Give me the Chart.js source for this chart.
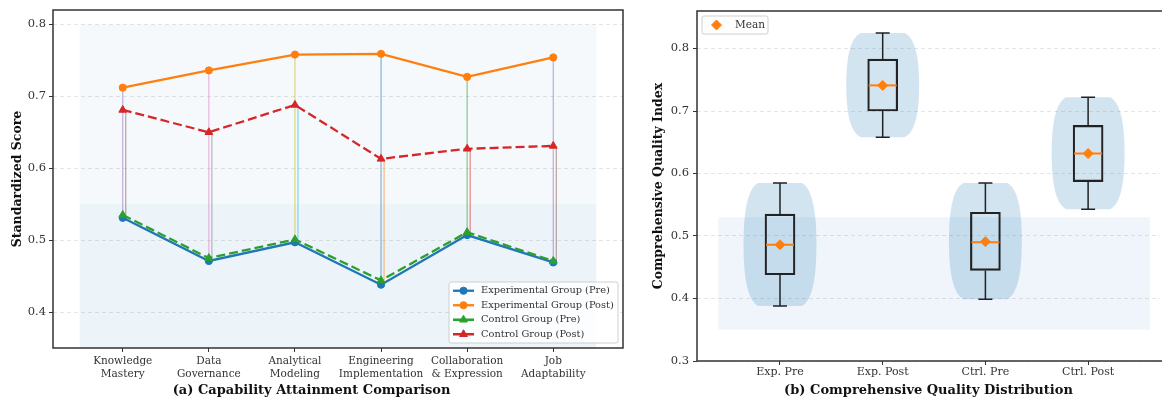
<!DOCTYPE html>
<html>
<head>
<meta charset="utf-8">
<script src="https://cdn.jsdelivr.net/npm/chart.js@4.4.1/dist/chart.umd.min.js"></script>
<style>
  html, body { margin: 0; padding: 0; background: #fff; }
  #wrap { position: relative; width: 1166px; height: 398px; overflow: hidden; }
  #chartA { position: absolute; left: 0; top: 0; }
  #chartB { position: absolute; left: 640px; top: 0; }
</style>
</head>
<body>
<div id="wrap">
  <canvas id="chartA" width="640" height="398"></canvas>
  <canvas id="chartB" width="526" height="398"></canvas>
</div>
<script>
// (a) capability attainment
const capabilities = ['Knowledge\nMastery', 'Data\nGovernance', 'Analytical\nModeling',
                      'Engineering\nImplementation', 'Collaboration\n& Expression', 'Job\nAdaptability'];
const expPre   = [0.531, 0.471, 0.497, 0.438, 0.507, 0.469];
const expPost  = [0.712, 0.736, 0.758, 0.759, 0.727, 0.754];
const ctrlPre  = [0.535, 0.475, 0.501, 0.444, 0.511, 0.471];
const ctrlPost = [0.681, 0.650, 0.688, 0.613, 0.627, 0.631];
const scoreTicks = [0.4, 0.5, 0.6, 0.7, 0.8];

// (b) comprehensive quality distribution
const groups      = ['Exp. Pre', 'Exp. Post', 'Ctrl. Pre', 'Ctrl. Post'];
const whiskerLow  = [0.388, 0.658, 0.399, 0.543];
const q1          = [0.438, 0.700, 0.445, 0.587];
const median      = [0.486, 0.741, 0.490, 0.632];
const q3          = [0.535, 0.783, 0.538, 0.677];
const whiskerHigh = [0.585, 0.825, 0.585, 0.722];
const means       = [0.486, 0.741, 0.491, 0.632];
const qualityTicks = [0.3, 0.4, 0.5, 0.6, 0.7, 0.8];

Chart.defaults.font.family = '"DejaVu Serif", serif';
Chart.defaults.color = '#333';

// colours for the thin pre->post links (matplotlib cycle after the 4 main lines)
const expLinkColors  = ['#9467bd', '#e377c2', '#bcbd22', '#1f77b4', '#2ca02c', '#9467bd'];
const ctrlLinkColors = ['#8c564b', '#7f7f7f', '#17becf', '#ff7f0e', '#d62728', '#8c564b'];

// shaded background bands
const bandsPlugin = {
    id: 'bands',
    beforeDraw(chart, args, o) {
        const {ctx, scales: {x, y}} = chart;
        ctx.save();
        o.bands.forEach(b => {
            const x0 = x.getPixelForValue(b.x[0]), x1 = x.getPixelForValue(b.x[1]);
            const y0 = y.getPixelForValue(b.y[1]), y1 = y.getPixelForValue(b.y[0]);
            ctx.fillStyle = b.color;
            ctx.fillRect(x0, y0, x1 - x0, y1 - y0);
        });
        ctx.restore();
    }
};

// axes frame
const framePlugin = {
    id: 'frame',
    afterDraw(chart, args, o) {
        const {ctx, chartArea: {left, top, right, bottom}} = chart;
        ctx.save();
        ctx.strokeStyle = '#333';
        ctx.lineWidth = 1.5;
        ctx.beginPath();
        if (o.open) {
            ctx.moveTo(right + 2, top); ctx.lineTo(left, top); ctx.lineTo(left, bottom); ctx.lineTo(right + 2, bottom);
        } else {
            ctx.rect(left, top, right - left, bottom - top);
        }
        ctx.stroke();
        ctx.restore();
    }
};

// legend drawn inside the plot, like matplotlib
const boxLegend = {
    id: 'boxLegend',
    afterDraw(chart, args, o) {
        const ctx = chart.ctx, ca = chart.chartArea;
        const items = chart.data.datasets.filter(d => d.label);
        const h = o.pad * 2 + items.length * o.row;
        const x = o.corner === 'br' ? ca.right - o.inset - o.width : ca.left + o.inset;
        const y = o.corner === 'br' ? ca.bottom - o.inset - h : ca.top + o.inset;
        ctx.save();
        ctx.beginPath();
        if (ctx.roundRect) ctx.roundRect(x, y, o.width, h, 2); else ctx.rect(x, y, o.width, h);
        ctx.fillStyle = 'rgba(255,255,255,0.85)';
        ctx.fill();
        ctx.strokeStyle = '#cfcfcf';
        ctx.lineWidth = 1;
        ctx.stroke();
        ctx.font = o.font;
        ctx.textBaseline = 'middle';
        items.forEach((d, i) => {
            const cy = y + o.pad + o.row * (i + 0.5);
            const sx = x + o.sampleLeft;
            if (o.line) {
                ctx.beginPath();
                ctx.setLineDash(d.borderDash || []);
                ctx.strokeStyle = d.borderColor;
                ctx.lineWidth = d.borderWidth;
                ctx.moveTo(sx, cy);
                ctx.lineTo(sx + o.sampleLen, cy);
                ctx.stroke();
                ctx.setLineDash([]);
            }
            ctx.fillStyle = d.pointBackgroundColor;
            ctx.strokeStyle = d.pointBorderColor;
            ctx.lineWidth = 1;
            Chart.helpers.drawPoint(ctx, {pointStyle: d.pointStyle, rotation: 0, radius: d.pointRadius, borderWidth: 1},
                sx + o.sampleLen / 2, cy);
            ctx.fillStyle = '#333';
            ctx.fillText(d.label, x + o.textLeft, cy);
        });
        ctx.restore();
    }
};

function pts(values) {
    return values.map((v, i) => ({x: i, y: v}));
}

function mainSet(label, values, color, style, dash, order) {
    return {
        label: label,
        data: pts(values),
        borderColor: color,
        backgroundColor: color,
        pointBackgroundColor: color,
        pointBorderColor: color,
        borderWidth: 2.3,
        borderDash: dash,
        pointStyle: style,
        pointRadius: style === 'triangle' ? 4.5 : 3.6,
        pointBorderWidth: 1,
        tension: 0,
        order: order
    };
}

var linkSets = [];
capabilities.forEach((c, i) => {
    linkSets.push({
        data: [{x: i, y: expPre[i]}, {x: i, y: expPost[i]}],
        borderColor: expLinkColors[i] + '8c', borderWidth: 1.2, pointRadius: 0, order: 10
    });
    linkSets.push({
        data: [{x: i + 0.035, y: ctrlPre[i]}, {x: i + 0.035, y: ctrlPost[i]}],
        borderColor: ctrlLinkColors[i] + '8c', borderWidth: 1.2, pointRadius: 0, order: 10
    });
});

var graficoA = new Chart(document.getElementById('chartA'), {
    type: 'line',
    data: {
        datasets: [
            mainSet('Experimental Group (Pre)', expPre, '#1f77b4', 'circle', [], 4),
            mainSet('Experimental Group (Post)', expPost, '#ff7f0e', 'circle', [], 3),
            mainSet('Control Group (Pre)', ctrlPre, '#2ca02c', 'triangle', [9, 4], 2),
            mainSet('Control Group (Post)', ctrlPost, '#d62728', 'triangle', [9, 4], 1)
        ].concat(linkSets)
    },
    options: {
        responsive: false,
        animation: false,
        devicePixelRatio: 1,
        layout: {padding: {top: 10, right: 17, left: 0, bottom: 0}},
        plugins: {
            legend: {display: false},
            tooltip: {enabled: false},
            title: {display: true, position: 'bottom', text: '(a) Capability Attainment Comparison', color: '#111',
                    font: {size: 13, weight: 'bold', lineHeight: 1.2}, padding: {top: 0, bottom: 0}},
            bands: {bands: [
                {x: [-0.5, 5.5], y: [0.35, 0.8], color: 'rgba(31,119,180,0.045)'},
                {x: [-0.5, 5.5], y: [0.35, 0.55], color: 'rgba(31,119,180,0.04)'}
            ]},
            frame: {open: false},
            boxLegend: {corner: 'br', inset: 5, width: 169, pad: 1.5, row: 14.5, line: true,
                        sampleLeft: 4, sampleLen: 21, textLeft: 32, font: '9.8px "DejaVu Serif"'}
        },
        scales: {
            x: {
                type: 'linear', min: -0.81, max: 5.81,
                afterBuildTicks: s => { s.ticks = capabilities.map((c, i) => ({value: i})); },
                afterFit: s => { s.height = 34.4; },
                ticks: {
                    callback: v => capabilities[v].split('\n'),
                    font: {size: 10.5}, color: '#333', padding: 3, maxRotation: 0, autoSkip: false
                },
                grid: {drawOnChartArea: false, tickLength: 4, tickColor: '#333', tickWidth: 1},
                border: {display: false}
            },
            y: {
                min: 0.35, max: 0.82,
                afterBuildTicks: s => { s.ticks = scoreTicks.map(v => ({value: v})); },
                afterFit: s => { s.width = 53; },
                ticks: {callback: v => v.toFixed(1), font: {size: 11.5}, color: '#333', padding: 3},
                grid: {color: 'rgba(0,0,0,0.13)', lineWidth: 0.8, tickColor: '#333', tickLength: 4, tickWidth: 1},
                border: {display: false, dash: [4, 3]},
                title: {display: true, text: 'Standardized Score', color: '#111',
                        font: {size: 12.5, weight: 'bold', lineHeight: 1.2}, padding: {top: 10, bottom: 0}}
            }
        }
    },
    plugins: [bandsPlugin, framePlugin, boxLegend]
});

// violin bodies behind the boxes
const violinHalf = 0.355;
const violinPlugin = {
    id: 'violins',
    beforeDatasetsDraw(chart) {
        const {ctx, scales: {x, y}} = chart;
        ctx.save();
        ctx.fillStyle = 'rgba(31,119,180,0.2)';
        groups.forEach((g, i) => {
            const cx = x.getPixelForValue(i);
            const w = x.getPixelForValue(i + violinHalf) - cx;
            const top = y.getPixelForValue(whiskerHigh[i]);
            const bot = y.getPixelForValue(whiskerLow[i]);
            const h = bot - top, mid = top + h / 2;
            const e = w * 0.6;
            ctx.beginPath();
            ctx.moveTo(cx - e, top);
            ctx.lineTo(cx + e, top);
            ctx.bezierCurveTo(cx + w * 0.86, top + h * 0.04, cx + w, top + h * 0.2, cx + w, mid);
            ctx.bezierCurveTo(cx + w, bot - h * 0.2, cx + w * 0.86, bot - h * 0.04, cx + e, bot);
            ctx.lineTo(cx - e, bot);
            ctx.bezierCurveTo(cx - w * 0.86, bot - h * 0.04, cx - w, bot - h * 0.2, cx - w, mid);
            ctx.bezierCurveTo(cx - w, top + h * 0.2, cx - w * 0.86, top + h * 0.04, cx - e, top);
            ctx.fill();
        });
        ctx.restore();
    }
};

// whiskers, caps and medians on top of the box bars
const whiskerPlugin = {
    id: 'whiskers',
    afterDatasetDraw(chart, args) {
        if (args.index !== 0) return;
        const {ctx, scales: {y}} = chart;
        ctx.save();
        groups.forEach((g, i) => {
            const bar = args.meta.data[i];
            const cx = bar.x, hw = bar.width / 2;
            const yLo = y.getPixelForValue(whiskerLow[i]), yHi = y.getPixelForValue(whiskerHigh[i]);
            const yQ1 = y.getPixelForValue(q1[i]), yQ3 = y.getPixelForValue(q3[i]);
            ctx.strokeStyle = '#222';
            ctx.lineWidth = 1.5;
            ctx.beginPath();
            ctx.moveTo(cx, yQ3); ctx.lineTo(cx, yHi);
            ctx.moveTo(cx, yQ1); ctx.lineTo(cx, yLo);
            ctx.moveTo(cx - 7, yHi); ctx.lineTo(cx + 7, yHi);
            ctx.moveTo(cx - 7, yLo); ctx.lineTo(cx + 7, yLo);
            ctx.stroke();
            const yMed = y.getPixelForValue(median[i]);
            ctx.strokeStyle = '#ff7f0e';
            ctx.lineWidth = 2;
            ctx.beginPath();
            ctx.moveTo(cx - hw + 1, yMed); ctx.lineTo(cx + hw - 1, yMed);
            ctx.stroke();
        });
        ctx.restore();
    }
};

var graficoB = new Chart(document.getElementById('chartB'), {
    type: 'bar',
    data: {
        datasets: [
            {
                type: 'bar',
                label: '',
                data: groups.map((g, i) => ({x: i, y: [q1[i], q3[i]]})),
                backgroundColor: 'rgba(0,0,0,0)',
                borderColor: '#222',
                borderWidth: 1.5,
                borderSkipped: false,
                barThickness: 30,
                order: 2
            },
            {
                type: 'line',
                label: 'Mean',
                data: means.map((v, i) => ({x: i, y: v})),
                showLine: false,
                pointStyle: 'rectRot',
                pointRadius: 5,
                pointBorderWidth: 1,
                pointBackgroundColor: '#ff7f0e',
                pointBorderColor: '#ff7f0e',
                borderColor: '#ff7f0e',
                backgroundColor: '#ff7f0e',
                order: 1
            }
        ]
    },
    options: {
        responsive: false,
        animation: false,
        devicePixelRatio: 1,
        layout: {padding: {top: 11, right: 0, left: 0, bottom: 0}},
        plugins: {
            legend: {display: false},
            tooltip: {enabled: false},
            bands: {bands: [
                {x: [-0.6, 3.6], y: [0.35, 0.53], color: 'rgba(31,119,180,0.07)'}
            ]},
            frame: {open: true},
            boxLegend: {corner: 'tl', inset: 5, width: 66, pad: 1.5, row: 15, line: false,
                        sampleLeft: 4, sampleLen: 21, textLeft: 33, font: '10.5px "DejaVu Serif"'}
        },
        scales: {
            x: {
                type: 'linear', min: -0.808, max: 3.70, offset: false,
                afterBuildTicks: s => { s.ticks = groups.map((g, i) => ({value: i})); },
                afterFit: s => { s.height = 37; },
                ticks: {callback: v => groups[v], font: {size: 11}, color: '#333', padding: 1,
                        maxRotation: 0, autoSkip: false},
                grid: {drawOnChartArea: false, tickLength: 4, tickColor: '#333', tickWidth: 1, offset: false},
                border: {display: false},
                title: {display: true, text: '(b) Comprehensive Quality Distribution', color: '#111',
                        font: {size: 13, weight: 'bold', lineHeight: 1.2}, padding: {top: 0, bottom: 0}}
            },
            y: {
                min: 0.3, max: 0.86,
                afterBuildTicks: s => { s.ticks = qualityTicks.map(v => ({value: v})); },
                afterFit: s => { s.width = 57; },
                ticks: {callback: v => v.toFixed(1), font: {size: 11.5}, color: '#333', padding: 4},
                grid: {color: 'rgba(0,0,0,0.13)', lineWidth: 0.8, tickColor: '#333', tickLength: 4, tickWidth: 1},
                border: {display: false, dash: [4, 3]},
                title: {display: true, text: 'Comprehensive Quality Index', color: '#111',
                        font: {size: 12.5, weight: 'bold', lineHeight: 1.2}, padding: {top: 11.5, bottom: 0}}
            }
        }
    },
    plugins: [bandsPlugin, violinPlugin, whiskerPlugin, framePlugin, boxLegend]
});
</script>
</body>
</html>
